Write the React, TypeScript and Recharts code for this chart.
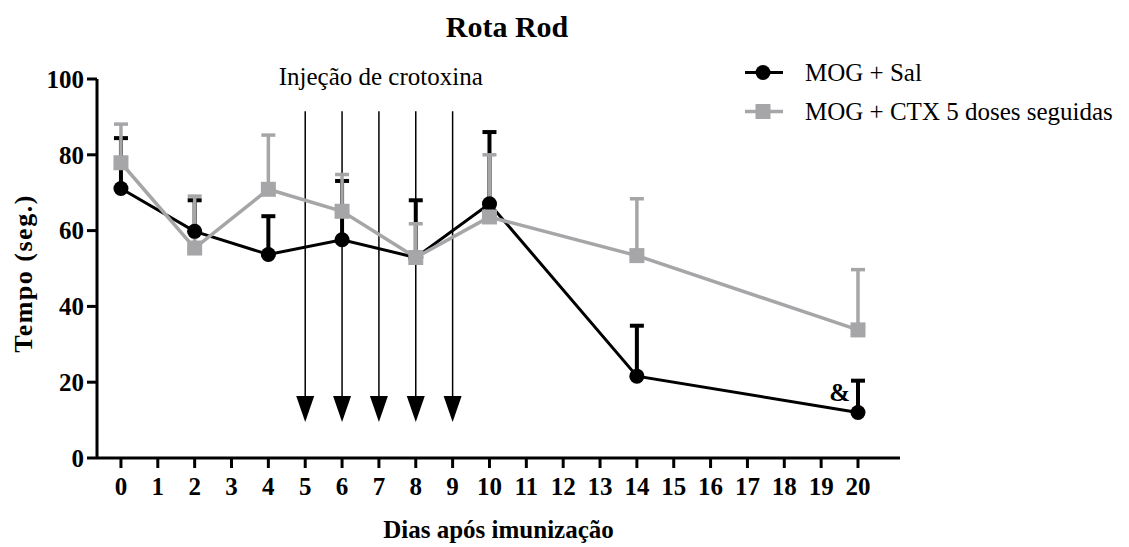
import React from 'react';
import { LineChart, Line, XAxis, YAxis, ErrorBar, ReferenceLine, ReferenceDot } from 'recharts';

// dias de avaliação
const days = [0, 2, 4, 6, 8, 10, 14, 20];
// MOG + Sal (média e EPM, só para cima)
const salMean = [71.1, 59.8, 53.7, 57.6, 52.9, 67.1, 21.6, 12.0];
const salSem = [13.3, 8.2, 10.1, 15.5, 15.1, 18.9, 13.3, 8.4];
// MOG + CTX 5 doses seguidas
const ctxMean = [77.9, 55.4, 70.9, 65.1, 52.9, 63.6, 53.4, 33.8];
const ctxSem = [10.2, 13.7, 14.3, 9.7, 8.9, 16.4, 15.0, 15.9];

const xTicks = [0, 1, 2, 3, 4, 5, 6, 7, 8, 9, 10, 11, 12, 13, 14, 15, 16, 17, 18, 19, 20];
const yTicks = [0, 20, 40, 60, 80, 100];

// setas das injeções de crotoxina
const injectionDays = [5, 6, 7, 8, 9];
const arrowTop = 91.5;
const arrowTip = 9.5;

const FONT = '"Liberation Serif", "Times New Roman", serif';
const GRAY = '#A6A6A9';

const data = days.map((d, i) => ({
  day: d,
  sal: salMean[i],
  salErr: [0, salSem[i]],
  ctx: ctxMean[i],
  ctxErr: [0, ctxSem[i]],
}));

const Arrow = (props: any) => {
  const { x1, y1, x2, y2 } = props;
  const head = 26;
  const half = 9;
  return (
    <g>
      <line x1={x1} y1={y1} x2={x2} y2={y2 - head} stroke="#000" strokeWidth={1.5} />
      <polygon points={`${x2 - half},${y2 - head} ${x2 + half},${y2 - head} ${x2},${y2}`} fill="#000" />
    </g>
  );
};

const SquareDot = (props: any) => {
  const { cx, cy, index } = props;
  if (cx == null || cy == null) return <g key={index} />;
  return <rect key={index} x={cx - 7.5} y={cy - 7.5} width={15} height={15} fill={GRAY} />;
};

const ChartLegend = () => (
  <div style={{ position: 'absolute', left: 745, top: 53, fontFamily: FONT, fontSize: 25, color: '#000' }}>
    <div style={{ display: 'flex', alignItems: 'center', height: 39 }}>
      <svg width={60} height={39}>
        <line x1={0} y1={19.5} x2={38} y2={19.5} stroke="#000" strokeWidth={3} />
        <circle cx={18} cy={19.5} r={7.5} fill="#000" />
      </svg>
      <span>MOG + Sal</span>
    </div>
    <div style={{ display: 'flex', alignItems: 'center', height: 39 }}>
      <svg width={60} height={39}>
        <line x1={0} y1={19.5} x2={38} y2={19.5} stroke={GRAY} strokeWidth={3.5} />
        <rect x={10.5} y={12} width={15} height={15} fill={GRAY} />
      </svg>
      <span>MOG + CTX 5 doses seguidas</span>
    </div>
  </div>
);

const axisStyle = { stroke: '#000', strokeWidth: 3 };
const tickStyle = { fill: '#000', fontFamily: FONT, fontSize: 25, fontWeight: 'bold' as const };

export default function App() {
  return (
    <div style={{ position: 'absolute', left: 0, top: 0, width: 1129, height: 547, background: '#fff' }}>
      <div
        style={{
          position: 'absolute', left: 0, top: 12, width: 1014, textAlign: 'center',
          fontFamily: FONT, fontWeight: 'bold', fontSize: 30, lineHeight: '30px', color: '#000',
        }}
      >
        Rota Rod
      </div>
      <ChartLegend />
      <LineChart width={1129} height={547} data={data} margin={{ top: 79, right: 229, bottom: 9, left: 0 }}>
        <XAxis
          dataKey="day"
          type="number"
          domain={[-0.65, 21.14]}
          allowDataOverflow
          ticks={xTicks}
          interval={0}
          height={80}
          tickSize={10}
          tickMargin={9}
          axisLine={axisStyle}
          tickLine={axisStyle}
          tick={tickStyle}
          label={{ value: 'Dias após imunização', position: 'center', dy: 31, style: { ...tickStyle } }}
        />
        <YAxis
          type="number"
          domain={[0, 100]}
          ticks={yTicks}
          width={97}
          tickSize={10}
          tickMargin={3}
          axisLine={axisStyle}
          tickLine={axisStyle}
          tick={tickStyle}
          label={{
            value: 'Tempo (seg.)', angle: -90, position: 'center', dx: -26, dy: 5,
            style: { ...tickStyle, fontSize: 26, letterSpacing: 1.5 },
          }}
        />
        {injectionDays.map((d) => (
          <ReferenceLine
            key={d}
            segment={[{ x: d, y: arrowTop }, { x: d, y: arrowTip }]}
            shape={Arrow}
          />
        ))}
        <ReferenceDot
          x={7.05}
          y={100.8}
          r={0}
          ifOverflow="visible"
          label={{ value: 'Injeção de crotoxina', position: 'center', style: { fill: '#000', fontFamily: FONT, fontSize: 25 } }}
        />
        <ReferenceDot
          x={19.5}
          y={17.4}
          r={0}
          label={{ value: '&', position: 'center', style: { ...tickStyle } }}
        />
        <Line
          dataKey="sal"
          stroke="#000"
          strokeWidth={3}
          dot={{ r: 7.5, fill: '#000', stroke: 'none' }}
          isAnimationActive={false}
        >
          <ErrorBar dataKey="salErr" direction="y" width={7} stroke="#000" strokeWidth={4} isAnimationActive={false} />
        </Line>
        <Line
          dataKey="ctx"
          stroke={GRAY}
          strokeWidth={3.5}
          dot={SquareDot}
          isAnimationActive={false}
        >
          <ErrorBar dataKey="ctxErr" direction="y" width={7} stroke={GRAY} strokeWidth={3.5} isAnimationActive={false} />
        </Line>
      </LineChart>
    </div>
  );
}
